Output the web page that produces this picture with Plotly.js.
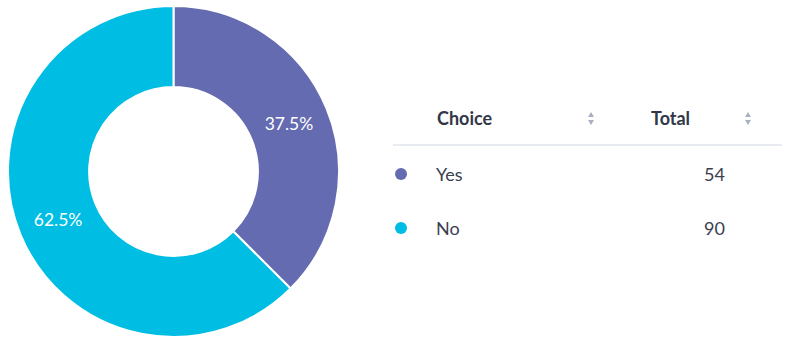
<!DOCTYPE html>
<html><head><meta charset="utf-8">
<script src="https://cdn.plot.ly/plotly-3.0.1.min.js"></script>
<style>html,body{margin:0;padding:0;background:#fff}#chart{width:789px;height:343px}</style>
</head><body><div id="chart"></div>
<script>
const categories = ["Yes", "No"];
const totals = [54, 90];
const colors = ["#656bb0", "#00bde3"];
const headers = ["Choice", "Total"];

const W = 789, H = 343;
const px = x => x / W;
const py = y => 1 - y / H;

const annotations = [];
const shapes = [];
const FONT = "Lato, 'Open Sans', sans-serif";

// headers
annotations.push({x: px(435), y: py(118), xref: "paper", yref: "paper", xanchor: "left", yanchor: "middle",
  text: "<b>" + headers[0] + "</b>", showarrow: false, font: {family: FONT, size: 18, color: "#323747"}});
annotations.push({x: px(649), y: py(118), xref: "paper", yref: "paper", xanchor: "left", yanchor: "middle",
  text: "<b>" + headers[1] + "</b>", showarrow: false, font: {family: FONT, size: 18, color: "#323747"}});
// sort icons
[591, 748].forEach(cx => {
  shapes.push({type: "path", xref: "paper", yref: "paper", line: {width: 0}, fillcolor: "#a9b0c3",
    path: `M ${px(cx-3)} ${py(117)} L ${px(cx+3)} ${py(117)} L ${px(cx)} ${py(112)} Z`});
  shapes.push({type: "path", xref: "paper", yref: "paper", line: {width: 0}, fillcolor: "#a9b0c3",
    path: `M ${px(cx-3)} ${py(120)} L ${px(cx+3)} ${py(120)} L ${px(cx)} ${py(125)} Z`});
});
// divider
shapes.push({type: "line", xref: "paper", yref: "paper", x0: px(393), x1: px(782), y0: py(145), y1: py(145),
  line: {color: "#e1e4ec", width: 1.5}});

const rowY = [174, 228];
categories.forEach((c, i) => {
  const y = rowY[i];
  shapes.push({type: "circle", xref: "paper", yref: "paper", x0: px(395), x1: px(407), y0: py(y + 6), y1: py(y - 6),
    fillcolor: colors[i], line: {width: 0}});
  annotations.push({x: px(434), y: py(y), xref: "paper", yref: "paper", xanchor: "left", yanchor: "middle",
    text: c, showarrow: false, font: {family: FONT, size: 18, color: "#3b4051"}});
  annotations.push({x: px(727), y: py(y), xref: "paper", yref: "paper", xanchor: "right", yanchor: "middle",
    text: String(totals[i]), showarrow: false, font: {family: FONT, size: 18, color: "#3b4051"}});
});

const data = [{
  type: "pie",
  labels: categories,
  values: totals,
  hole: 0.51,
  sort: false,
  direction: "clockwise",
  rotation: 0,
  marker: {colors: colors, line: {color: "#ffffff", width: 2}},
  textinfo: "percent",
  texttemplate: "%{percent:.1%}",
  textposition: "inside",
  insidetextorientation: "horizontal",
  textfont: {family: FONT, size: 17.5, color: "#ffffff"},
  domain: {x: [px(8), px(339)], y: [1 - 337 / H, 1 - 6 / H]},
  showlegend: false,
  hoverinfo: "none"
}];

const layout = {
  width: W, height: H,
  margin: {l: 0, r: 0, t: 0, b: 0},
  paper_bgcolor: "#ffffff",
  plot_bgcolor: "#ffffff",
  showlegend: false,
  annotations: annotations,
  shapes: shapes,
  font: {family: FONT}
};

Plotly.newPlot("chart", data, layout, {displayModeBar: false, staticPlot: true});
</script></body></html>
